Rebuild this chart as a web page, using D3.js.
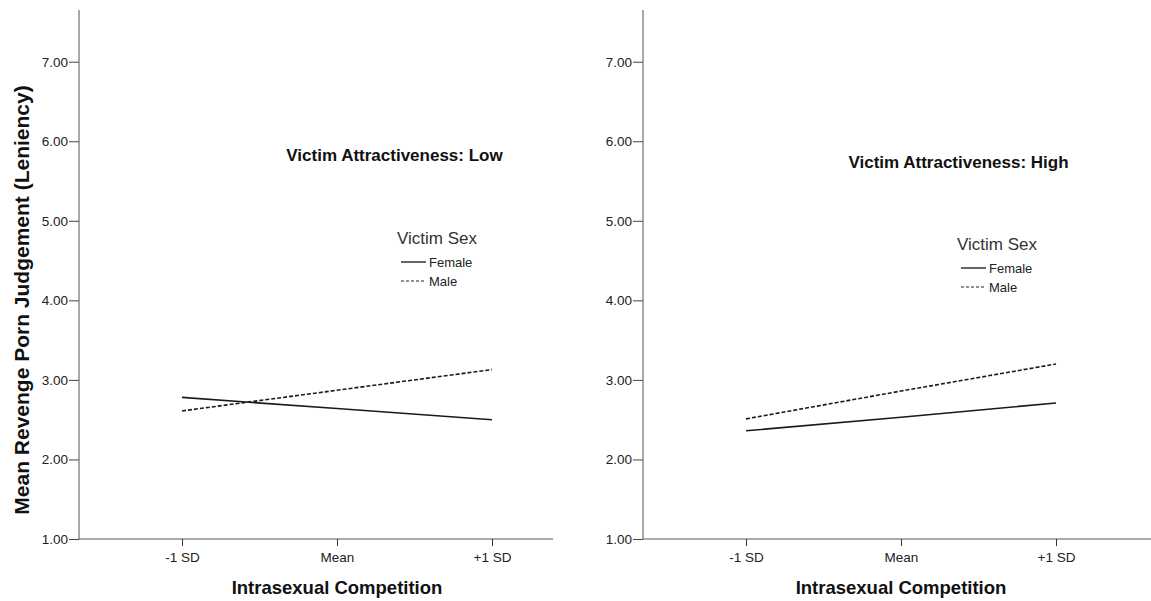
<!DOCTYPE html>
<html><head><meta charset="utf-8">
<script src="https://cdn.jsdelivr.net/npm/d3@7"></script>
<style>body{margin:0;background:#fff}svg{display:block}text{font-family:"Liberation Sans",Arial,sans-serif}</style>
</head><body>
<svg id="c" width="1151" height="601"></svg>
<script>
const categories = ["-1 SD", "Mean", "+1 SD"];
const yTicks = [1, 2, 3, 4, 5, 6, 7];
const panelTitles = ["Victim Attractiveness: Low", "Victim Attractiveness: High"];
const seriesNames = ["Female", "Male"];
const lowFemale = [2.78, 2.64, 2.50];
const lowMale = [2.61, 2.87, 3.13];
const highFemale = [2.36, 2.53, 2.71];
const highMale = [2.51, 2.86, 3.20];
const panels = [
  {title: panelTitles[0], series: [lowFemale, lowMale]},
  {title: panelTitles[1], series: [highFemale, highMale]}
];

const svg = d3.select("#c");
const y = d3.scaleLinear().domain([1, 7.65]).range([539, 10]);
const panelX = [79, 643];
const panelEnd = [553, 1151];
const titleY = [161, 168];
const legendY = [238, 244];
const legendX = [397, 957];

panels.forEach((p, i) => {
  const x0 = panelX[i];
  const x = d3.scalePoint().domain(categories).range([x0 + 103, x0 + 413]);
  const g = svg.append("g");
  // y axis
  const ya = d3.axisLeft(y).tickValues(yTicks).tickFormat(d3.format(".2f")).tickSize(10).tickPadding(1).tickSizeOuter(0);
  const yg = g.append("g").attr("transform", `translate(${x0},0)`).call(ya);
  yg.select(".domain").remove();
  yg.selectAll("line").attr("stroke", "#444");
  yg.selectAll("text").attr("font-size", 13.5).attr("fill", "#222");
  g.append("line").attr("x1", x0).attr("x2", x0).attr("y1", y.range()[1]).attr("y2", y(1)).attr("stroke", "#555");
  // x axis
  g.append("line").attr("x1", x0).attr("x2", panelEnd[i]).attr("y1", y(1)).attr("y2", y(1)).attr("stroke", "#555");
  const xa = d3.axisBottom(x).tickSize(7).tickSizeOuter(0);
  const xg = g.append("g").attr("transform", `translate(0,${y(1)})`).call(xa);
  xg.select(".domain").remove();
  xg.selectAll("line").attr("stroke", "#333");
  xg.selectAll("text").attr("font-size", 13.5).attr("fill", "#222").attr("dy", "0.95em");
  // x title
  g.append("text").attr("x", x("Mean")).attr("y", 594).attr("text-anchor", "middle")
    .attr("font-size", 18.5).attr("font-weight", "bold").attr("fill", "#111").text("Intrasexual Competition");
  // lines
  const line = d3.line().x((d, j) => x(categories[j])).y(d => y(d));
  p.series.forEach((s, k) => {
    g.append("path").datum(s).attr("d", line).attr("fill", "none").attr("stroke", "#1a1a1a")
      .attr("stroke-width", 1.6).attr("stroke-dasharray", k === 1 ? "4,2" : null);
  });
  // panel title
  g.append("text").attr("x", x0 + 315.5).attr("y", titleY[i]).attr("text-anchor", "middle")
    .attr("font-size", 17).attr("font-weight", "bold").attr("fill", "#111").text(p.title);
  // legend
  const lx = legendX[i], ly = legendY[i];
  g.append("text").attr("x", lx).attr("y", ly + 6).attr("font-size", 17).attr("fill", "#333").text("Victim Sex");
  seriesNames.forEach((n, k) => {
    const yy = ly + 24 + k * 19;
    g.append("line").attr("x1", lx + 4).attr("x2", lx + 29).attr("y1", yy).attr("y2", yy)
      .attr("stroke", k === 0 ? "#666" : "#222").attr("stroke-width", k === 0 ? 2 : 1.2)
      .attr("stroke-dasharray", k === 1 ? "3,2" : null);
    g.append("text").attr("x", lx + 32).attr("y", yy + 5).attr("font-size", 13).attr("fill", "#222").text(n);
  });
});
// y title
svg.append("text").attr("transform", "translate(29,300) rotate(-90)").attr("text-anchor", "middle")
  .attr("font-size", 21).attr("font-weight", "bold").attr("fill", "#111").text("Mean Revenge Porn Judgement (Leniency)");
</script>
</body></html>
